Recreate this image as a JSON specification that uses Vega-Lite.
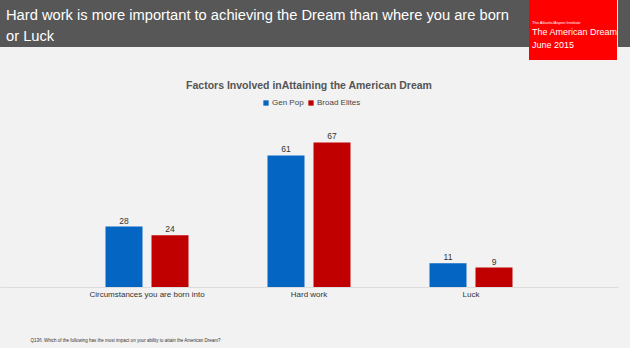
{
  "$schema": "https://vega.github.io/schema/vega-lite/v6.json",
  "background": "#f2f2f2",
  "padding": {"left": 0, "top": 0, "right": 0, "bottom": 6},
  "spacing": 20,
  "config": {
    "font": "Liberation Sans",
    "view": {"stroke": null},
    "concat": {"spacing": 0}
  },
  "vconcat": [
    {
      "spacing": 0,
      "hconcat": [
        {
          "width": 529,
          "height": 47,
          "view": {"fill": "#575757", "stroke": null},
          "title": {
            "text": ["Hard work is more important to achieving the Dream than where you are born", "or Luck"],
            "color": "#ffffff",
            "fontSize": 14.7,
            "fontWeight": "normal",
            "font": "Liberation Sans",
            "anchor": "start",
            "dx": 6,
            "lineHeight": 21,
            "offset": -44
          },
          "data": {"values": [{"t": ""}]},
          "mark": "text",
          "encoding": {"text": {"field": "t"}}
        },
        {
          "width": 88,
          "height": 60,
          "view": {"fill": "#ff0000", "stroke": null},
          "title": {
            "text": "The Atlantic/Aspen Institute",
            "subtitle": ["The American Dream", "June 2015"],
            "color": "#ffffff",
            "subtitleColor": "#ffffff",
            "fontSize": 4,
            "subtitleFontSize": 9,
            "subtitleLineHeight": 13,
            "subtitlePadding": 3,
            "fontWeight": "normal",
            "anchor": "start",
            "dx": 3,
            "offset": -50
          },
          "data": {"values": [{"t": ""}]},
          "mark": "text",
          "encoding": {"text": {"field": "t"}}
        },
        {
          "width": 13,
          "height": 47,
          "view": {"fill": "#575757", "stroke": null},
          "data": {"values": [{"t": ""}]},
          "mark": "text",
          "encoding": {"text": {"field": "t"}}
        }
      ]
    },
    {
      "width": 618,
      "height": 151,
      "title": {
        "text": "Factors Involved inAttaining the American Dream",
        "fontSize": 10.5,
        "fontWeight": "bold",
        "color": "#555555",
        "anchor": "middle",
        "offset": 41
      },
      "data": {
        "values": [
          {"factor": "Circumstances you are born into", "group": "Gen Pop", "value": 28},
          {"factor": "Circumstances you are born into", "group": "Broad Elites", "value": 24},
          {"factor": "Hard work", "group": "Gen Pop", "value": 61},
          {"factor": "Hard work", "group": "Broad Elites", "value": 67},
          {"factor": "Luck", "group": "Gen Pop", "value": 11},
          {"factor": "Luck", "group": "Broad Elites", "value": 9}
        ]
      },
      "encoding": {
        "x": {
          "field": "factor",
          "type": "nominal",
          "sort": null,
          "scale": {"paddingInner": 0, "paddingOuter": 0.4074},
          "axis": {
            "labelAngle": 0,
            "labelFontSize": 8,
            "labelColor": "#333333",
            "labelPadding": 3,
            "ticks": false,
            "domainColor": "#dddddd",
            "title": "Q13б. Which of the following has the most impact on your ability to attain the American Dream?",
            "titleFontSize": 4.5,
            "titleFontWeight": "normal",
            "titleColor": "#333333",
            "titleAnchor": "start",
            "titleAlign": "left",
            "titleX": 30,
            "titleY": 50
          }
        },
        "xOffset": {
          "field": "group",
          "type": "nominal",
          "sort": ["Gen Pop", "Broad Elites"],
          "scale": {"paddingInner": 0.1957, "paddingOuter": 0.8587}
        },
        "y": {
          "field": "value",
          "type": "quantitative",
          "scale": {"domain": [0, 70], "nice": false},
          "axis": null
        }
      },
      "layer": [
        {
          "mark": {"type": "bar"},
          "encoding": {
            "color": {
              "field": "group",
              "type": "nominal",
              "sort": ["Gen Pop", "Broad Elites"],
              "scale": {"domain": ["Gen Pop", "Broad Elites"], "range": ["#0565c3", "#c00000"]},
              "legend": {
                "title": null,
                "orient": "none",
                "direction": "horizontal",
                "legendX": 262,
                "legendY": 99,
                "symbolType": "square",
                "symbolSize": 28,
                "symbolStrokeWidth": 0,
                "labelFontSize": 8,
                "labelColor": "#444444",
                "labelOffset": 2,
                "columnPadding": 3
              }
            }
          }
        },
        {
          "mark": {"type": "text", "dy": -6, "fontSize": 8.5, "color": "#333333"},
          "encoding": {"text": {"field": "value", "type": "quantitative"}}
        }
      ]
    }
  ]
}
